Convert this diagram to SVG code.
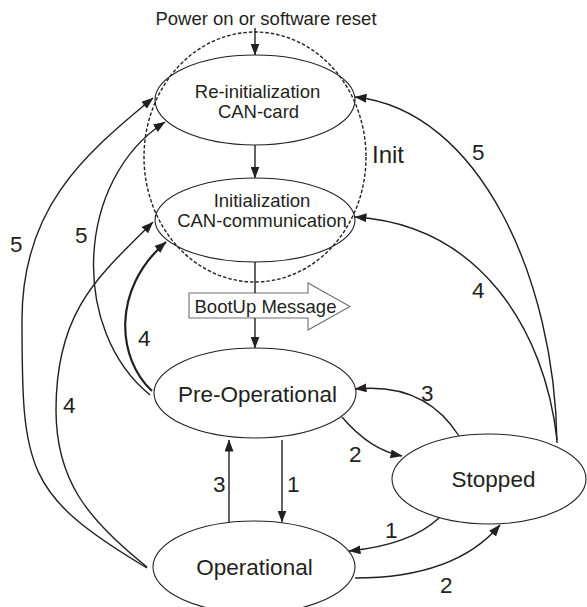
<svg xmlns="http://www.w3.org/2000/svg" width="587" height="607" viewBox="0 0 587 607">
<style>
.node{fill:#fff;stroke:#231f20;stroke-width:1.1}
.t{font-family:"Liberation Sans",Arial,sans-serif;fill:#231f20;text-anchor:middle}
.s{font-size:18.5px}
.b{font-size:22.5px}
.lbl{font-family:"Liberation Sans",Arial,sans-serif;fill:#231f20;font-size:22.5px}
.c{fill:none;stroke:#231f20;stroke-width:1.4;marker-end:url(#ah)}
.thick{stroke-width:2.2}
</style>
<defs>
<marker id="ah" viewBox="0 0 12 9" markerWidth="12" markerHeight="9" refX="11.5" refY="4.5" orient="auto" markerUnits="userSpaceOnUse">
<path d="M0,0 L12,4.5 L0,9 z" fill="#231f20"/>
</marker>
</defs>
<rect width="587" height="607" fill="#fff"/>

<g id="init-group">
<ellipse cx="255" cy="157" rx="111" ry="125" fill="none" stroke="#231f20" stroke-width="1.4" stroke-dasharray="3.5,2"/>
<text class="lbl" x="372" y="163" style="font-size:24px">Init</text>
</g>

<g id="reinit">
<ellipse class="node" cx="255" cy="100" rx="100" ry="45" fill-opacity="0"/>
<text class="t s" x="257.5" y="98">Re-initialization</text>
<text class="t s" x="258.5" y="118">CAN-card</text>
</g>

<g id="initcomm">
<ellipse class="node" cx="255" cy="220" rx="100" ry="42" fill-opacity="0"/>
<text class="t s" x="262" y="207">Initialization</text>
<text class="t s" x="262" y="227">CAN-communication</text>
</g>

<g id="preop">
<ellipse class="node" cx="255" cy="393" rx="101" ry="45"/>
<text class="t b" x="257.5" y="402">Pre-Operational</text>
</g>

<g id="operational">
<ellipse class="node" cx="254" cy="567" rx="101" ry="46"/>
<text class="t b" x="254.5" y="575">Operational</text>
</g>

<g id="stopped">
<ellipse class="node" cx="489" cy="479" rx="97" ry="45"/>
<text class="t b" x="493.5" y="487">Stopped</text>
</g>

<g id="power">
<text class="t s" x="266" y="25">Power on or software reset</text>
</g>

<g id="bootup">
<polygon points="189,293 308,293 308,283 350,306.5 308,330 308,318 189,318" fill="#fff" stroke="#6d6e70" stroke-width="1.1"/>
<text class="t s" x="265.5" y="313">BootUp Message</text>
</g>

<g id="connectors">
<path class="c" d="M255,28 L255,55"/>
<path class="c" d="M255,145 L255,178"/>
<path d="M255,262 L255,293" fill="none" stroke="#231f20" stroke-width="1.4"/>
<path class="c" d="M255,318 L255,348"/>
<path class="c" d="M282,440 L282,522"/>
<path class="c" d="M229,522 L229,440"/>
<path class="c" d="M342,417 Q370,450 402,456"/>
<path class="c" d="M459,436 Q425,382 355,389"/>
<path class="c" d="M439,518 Q410,545 349,551"/>
<path class="c" d="M355,578 Q455,578 500,525"/>
<path class="c" d="M557,443 C555,280 480,110 355,97"/>
<path class="c" d="M557,440 C545,330 480,225 355,217"/>
<path class="c" d="M150,395 C70,330 75,180 165,122"/>
<path class="c thick" d="M152,391 C118,360 110,290 166,242"/>
<path class="c" d="M147,568 C25,495 22,470 22,320 C22,210 81,157 153,98"/>
<path class="c" d="M147,567 C87,519 56,480 56,410 C56,310 99,276 153,222"/>
</g>

<g id="labels">
<text class="lbl" x="10" y="252">5</text>
<text class="lbl" x="75" y="243">5</text>
<text class="lbl" x="138" y="346">4</text>
<text class="lbl" x="63" y="413">4</text>
<text class="lbl" x="213" y="492">3</text>
<text class="lbl" x="287" y="492">1</text>
<text class="lbl" x="472" y="160">5</text>
<text class="lbl" x="472" y="298">4</text>
<text class="lbl" x="421" y="401">3</text>
<text class="lbl" x="349" y="462">2</text>
<text class="lbl" x="385" y="538">1</text>
<text class="lbl" x="440" y="593">2</text>
</g>
</svg>
